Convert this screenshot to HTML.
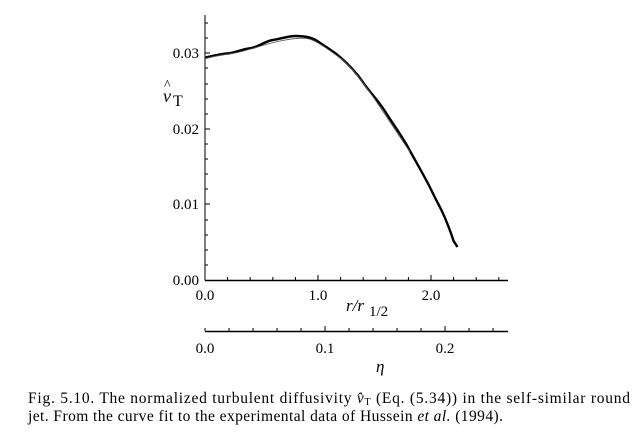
<!DOCTYPE html>
<html><head><meta charset="utf-8"><style>
html,body{margin:0;padding:0;background:#fff;}
svg{display:block;font-family:"Liberation Serif",serif;}
</style></head><body>
<svg width="643" height="435" viewBox="0 0 643 435" xmlns="http://www.w3.org/2000/svg">
<g stroke="#000" stroke-width="1" fill="none">
<line x1="205" y1="15" x2="205" y2="280.5"/>
<line x1="205" y1="280.5" x2="508" y2="280.5" stroke-width="1.4"/>
<line x1="205" y1="331.5" x2="508" y2="331.5" stroke-width="1.4"/>
<path d="M205 265h3M205 250h3M205 235h3M205 220h3M205 204h5M205 189h3M205 174h3M205 159h3M205 144h3M205 129h5M205 114h3M205 99h3M205 84h3M205 68h3M205 53h5M205 38h3M205 23h3"/>
<path d="M227.6 280v-3M250.2 280v-3M272.8 280v-3M295.4 280v-3M318 280v-5M340.6 280v-3M363.2 280v-3M385.8 280v-3M408.4 280v-3M431 280v-5M453.6 280v-3M476.2 280v-3M498.8 280v-3"/>
<path d="M205 331v-3M229 331v-3M253 331v-3M277 331v-3M301 331v-3M325 331v-5M349 331v-3M373 331v-3M397 331v-3M421 331v-3M445 331v-5M469 331v-3M493 331v-3"/>
</g>
<path d="M205 57.8 C212 56 220 54 227.6 53.5 S242 49 250.2 48.2 S265 41 272.8 40 S288 36 295.4 36 S312 37 318 41.5 S332 50 340.6 57.5 S356 72 363.2 82.5 S378 100 385.8 112.5 S402 136 408.4 148 S425 177 431 189.5 S439 205 442.3 212 S450 230 453.6 241 L457.5 247" fill="none" stroke="#000" stroke-width="2.4" stroke-linejoin="round"/>
<path d="M205 58.5 C215 56 225 54.5 235 53 S265 44 280 41 S300 38 306 38.5 S320 43 340 58 S380 108 410 152" fill="none" stroke="#555" stroke-width="0.8"/>
<g font-size="15" fill="#000">
<text x="199" y="58" text-anchor="end">0.03</text>
<text x="199" y="134" text-anchor="end">0.02</text>
<text x="199" y="209" text-anchor="end">0.01</text>
<text x="199" y="285" text-anchor="end">0.00</text>
<text x="205" y="300" text-anchor="middle">0.0</text>
<text x="318" y="300" text-anchor="middle">1.0</text>
<text x="431" y="300" text-anchor="middle">2.0</text>
<text x="205" y="353" text-anchor="middle">0.0</text>
<text x="325" y="353" text-anchor="middle">0.1</text>
<text x="445" y="353" text-anchor="middle">0.2</text>
<text x="346" y="311" font-size="17" font-style="italic">r/r</text><text x="369" y="316" font-size="15">1/2</text>
<text x="376" y="372" font-size="17" font-style="italic">η</text>
<text x="163" y="102" font-size="18" font-style="italic">v</text><text x="164" y="89" font-size="14">^</text><text x="173" y="106" font-size="16">T</text>
<text x="28" y="403" font-size="15.5" textLength="602" lengthAdjust="spacing">Fig. 5.10. The normalized turbulent diffusivity <tspan font-style="italic">v̂</tspan><tspan font-size="10" dy="2">T</tspan><tspan dy="-2"> (Eq. (5.34)) in the self-similar round</tspan></text>
<text x="28" y="421" font-size="15.5" textLength="475" lengthAdjust="spacing">jet. From the curve fit to the experimental data of Hussein <tspan font-style="italic">et al.</tspan> (1994).</text>
</g>
</svg>
</body></html>
